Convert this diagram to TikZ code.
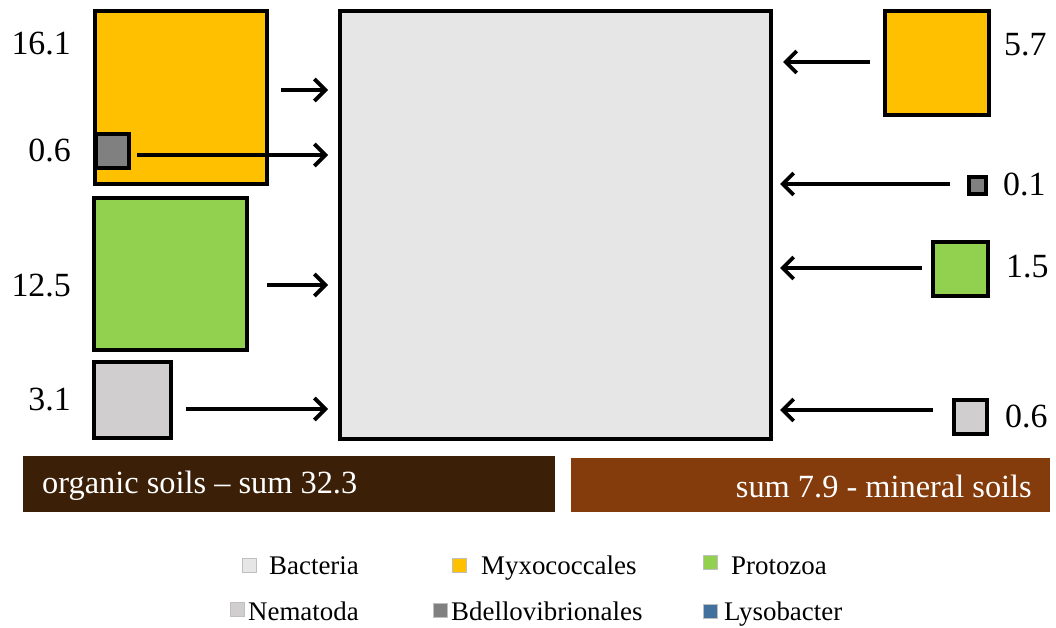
\documentclass[tikz,border=0pt]{standalone}
\usepackage{fontspec}
\setmainfont{Liberation Serif}
\usetikzlibrary{arrows.meta}
\definecolor{bact}{HTML}{E7E6E6}
\definecolor{myxo}{HTML}{FFC000}
\definecolor{proto}{HTML}{92D050}
\definecolor{nema}{HTML}{D0CECE}
\definecolor{bdel}{HTML}{808080}
\definecolor{lyso}{HTML}{41719C}
\definecolor{orgbar}{HTML}{3B1F07}
\definecolor{minbar}{HTML}{843C0C}
\tikzset{
  sq/.style={draw=black,line width=3.8bp,inner sep=0pt,outer sep=0pt},
  arr/.style={line width=3.8bp,-{Straight Barb[length=11bp,width=22bp,line width=3.8bp]}},
  num/.style={font=\fontsize{34}{38}\selectfont,inner sep=0pt},
  bartxt/.style={font=\fontsize{32.5}{36}\selectfont,text=white,inner sep=0pt},
  leg/.style={font=\fontsize{27}{30}\selectfont,inner sep=0pt,anchor=base west},
  legsq/.style={draw=black!25,line width=0.5bp,minimum size=14bp,inner sep=0pt},
}
\begin{document}
\begin{tikzpicture}[x=1bp,y=-1bp]
\useasboundingbox (0,0) rectangle (1056,628);
% big bacteria box
\node[sq,fill=bact,minimum width=431bp,minimum height=428bp,anchor=north west] (bact) at (340,11) {};
% left boxes
\node[sq,fill=myxo,minimum width=172bp,minimum height=173bp,anchor=north west] (lmyxo) at (95,11) {};
\node[sq,fill=bdel,minimum width=33bp,minimum height=34bp,anchor=north west] (lbdel) at (96,134) {};
\node[sq,fill=proto,minimum width=153bp,minimum height=152bp,anchor=north west] (lproto) at (94,198) {};
\node[sq,fill=nema,minimum width=77bp,minimum height=76bp,anchor=north west] (lnema) at (94,362) {};
% right boxes
\node[sq,fill=myxo,minimum width=104bp,minimum height=104bp,anchor=north west] (rmyxo) at (885,11) {};
\node[sq,fill=bdel,line width=3.5bp,minimum width=17bp,minimum height=17bp,anchor=north west] (rbdel) at (969,177) {};
\node[sq,fill=proto,minimum width=55bp,minimum height=54bp,anchor=north west] (rproto) at (933,242) {};
\node[sq,fill=nema,minimum width=33bp,minimum height=34bp,anchor=north west] (rnema) at (954,400) {};
% arrow anchors
\coordinate (a1) at (281,90);
\coordinate (a2) at (137,155);
\coordinate (a3) at (267,285);
\coordinate (a4) at (186,409);
\coordinate (b1) at (870,62);
\coordinate (b2) at (950,184);
\coordinate (b3) at (922,268);
\coordinate (b4) at (933,410);
\draw[arr] (a1) -- ([xshift=-12bp]bact.west |- a1);
\draw[arr] (a2) -- ([xshift=-12bp]bact.west |- a2);
\draw[arr] (a3) -- ([xshift=-12bp]bact.west |- a3);
\draw[arr] (a4) -- ([xshift=-12bp]bact.west |- a4);
\draw[arr] (b1) -- ([xshift=12bp]bact.east |- b1);
\draw[arr] (b2) -- ([xshift=9bp]bact.east |- b2);
\draw[arr] (b3) -- ([xshift=9bp]bact.east |- b3);
\draw[arr] (b4) -- ([xshift=9bp]bact.east |- b4);
% value labels
\node[num,anchor=base east] (n1) at (71,55) {16.1};
\node[num,anchor=base east] (n2) at (71,162) {0.6};
\node[num,anchor=base east] (n3) at (71,297) {12.5};
\node[num,anchor=base east] (n4) at (71,410) {3.1};
\node[num,anchor=base west] (m1) at (1004,56) {5.7};
\node[num,anchor=base west] (m2) at (1003,196) {0.1};
\node[num,anchor=base west] (m3) at (1006,278) {1.5};
\node[num,anchor=base west] (m4) at (1005,427) {0.6};
% bars
\node[fill=orgbar,minimum width=532bp,minimum height=56bp,anchor=north west,inner sep=0pt] (orgbar) at (23,456) {};
\node[fill=minbar,minimum width=479bp,minimum height=54bp,anchor=north west,inner sep=0pt] (minbar) at (571,458) {};
\node[bartxt,anchor=west] (orgtxt) at (42,486) {organic soils -- sum 32.3};
\node[bartxt,anchor=east] (mintxt) at (1032,486) {sum 7.9 - mineral soils};
% legend
\node[legsq,fill=bact] (lg1) at (249.5,565) {};
\node[leg] (lt1) at (269,574) {Bacteria};
\node[legsq,fill=myxo] (lg2) at (459.5,565) {};
\node[leg] (lt2) at (481,574) {Myxococcales};
\node[legsq,fill=proto] (lg3) at (710,562.5) {};
\node[leg] (lt3) at (731,574) {Protozoa};
\node[legsq,fill=nema] (lg4) at (237.5,609.5) {};
\node[leg] (lt4) at (248,620) {Nematoda};
\node[legsq,fill=bdel] (lg5) at (440,610) {};
\node[leg] (lt5) at (451,620) {Bdellovibrionales};
\node[legsq,fill=lyso] (lg6) at (710.5,611) {};
\node[leg] (lt6) at (724,620) {Lysobacter};
\end{tikzpicture}
\end{document}
